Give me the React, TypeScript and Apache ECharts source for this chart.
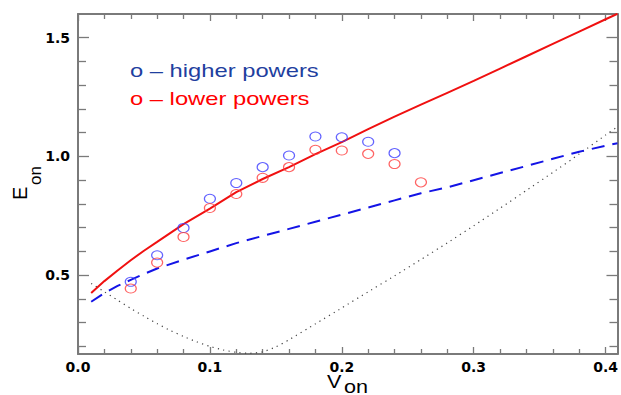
import React, { useEffect, useRef } from "react";
import * as echarts from "echarts";

// Measured points (Von, Eon)
const pointV = [0.04, 0.06, 0.08, 0.1, 0.12, 0.14, 0.16, 0.18, 0.2, 0.22, 0.24];
const higherE = [0.472, 0.584, 0.699, 0.822, 0.888, 0.955, 1.004, 1.084, 1.081, 1.062, 1.014];
const pointVLow = [0.04, 0.06, 0.08, 0.1, 0.12, 0.14, 0.16, 0.18, 0.2, 0.22, 0.24, 0.26];
const lowerE = [0.444, 0.553, 0.661, 0.783, 0.842, 0.91, 0.955, 1.028, 1.025, 1.011, 0.968, 0.891];

// Red solid curve
const redV = [0.01, 0.02, 0.03, 0.04, 0.05, 0.06, 0.08, 0.1, 0.12, 0.14, 0.16, 0.18, 0.2, 0.22, 0.24, 0.26, 0.28, 0.3, 0.32, 0.34, 0.36, 0.38, 0.4, 0.409];
const redE = [0.425, 0.475, 0.52, 0.563, 0.603, 0.64, 0.715, 0.78, 0.85, 0.905, 0.955, 1.01, 1.06, 1.115, 1.168, 1.218, 1.268, 1.318, 1.37, 1.422, 1.474, 1.526, 1.578, 1.601];

// Blue dashed curve
const blueV = [0.01, 0.02, 0.03, 0.04, 0.05, 0.06, 0.08, 0.1, 0.12, 0.14, 0.16, 0.18, 0.2, 0.22, 0.24, 0.26, 0.28, 0.3, 0.32, 0.34, 0.36, 0.38, 0.4, 0.409];
const blueE = [0.388, 0.425, 0.455, 0.48, 0.505, 0.528, 0.565, 0.6, 0.635, 0.665, 0.695, 0.725, 0.755, 0.785, 0.815, 0.845, 0.87, 0.9, 0.93, 0.96, 0.99, 1.02, 1.045, 1.056];

// Black dotted curve
const dotV = [0.01, 0.02, 0.03, 0.04, 0.05, 0.06, 0.07, 0.08, 0.09, 0.1, 0.11, 0.12, 0.13, 0.14, 0.15, 0.16, 0.18, 0.2, 0.22, 0.24, 0.26, 0.28, 0.3, 0.32, 0.34, 0.36, 0.38, 0.4, 0.409];
const dotE = [0.465, 0.43, 0.395, 0.36, 0.327, 0.296, 0.267, 0.242, 0.219, 0.2, 0.185, 0.175, 0.171, 0.177, 0.198, 0.228, 0.295, 0.362, 0.43, 0.497, 0.566, 0.636, 0.708, 0.782, 0.857, 0.933, 1.01, 1.09, 1.125];

// Ticks
const xMajor = [0, 0.1, 0.2, 0.3, 0.4];
const xMinor = [0.02, 0.04, 0.06, 0.08, 0.12, 0.14, 0.16, 0.18, 0.22, 0.24, 0.26, 0.28, 0.32, 0.34, 0.36, 0.38];
const yMajor = [0.5, 1.0, 1.5];
const yMinor = [0.2, 0.3, 0.4, 0.6, 0.7, 0.8, 0.9, 1.1, 1.2, 1.3, 1.4];

const X_MIN = 0;
const X_MAX = 0.409;
const Y_MIN = 0.168;
const Y_MAX = 1.6;

const legendTexts = ["o \u2013 higher powers", "o \u2013 lower powers"];

const zip = (a: number[], b: number[]) => a.map((v, i) => [v, b[i]]);

export default function App() {
  const ref = useRef<HTMLDivElement>(null);
  useEffect(() => {
    if (!ref.current) return;
    const chart = echarts.init(ref.current, null, { renderer: "svg" });
    const axisColor = "#7a7a7a";
    const labelStyle = {
      color: "#000",
      fontFamily: "DejaVu Sans",
      fontWeight: "bold" as const,
      fontSize: 14,
    };
    const mkX = (position: string, values: number[], len: number, showLine: boolean, showLabel: boolean) => ({
      type: "value",
      position,
      min: X_MIN,
      max: X_MAX,
      axisLine: { show: showLine, onZero: false, lineStyle: { color: axisColor, width: 2 } },
      axisTick: { show: true, inside: true, length: len, customValues: values, lineStyle: { color: axisColor, width: 1.3 } },
      axisLabel: showLabel
        ? { show: true, customValues: values, margin: 6, formatter: (v: number) => v.toFixed(1), ...labelStyle }
        : { show: false },
      splitLine: { show: false },
    });
    const mkY = (position: string, values: number[], len: number, showLine: boolean, showLabel: boolean) => ({
      type: "value",
      position,
      min: Y_MIN,
      max: Y_MAX,
      axisLine: { show: showLine, onZero: false, lineStyle: { color: axisColor, width: 2 } },
      axisTick: { show: true, inside: true, length: len, customValues: values, lineStyle: { color: axisColor, width: 1.3 } },
      axisLabel: showLabel
        ? { show: true, customValues: values, margin: 8, formatter: (v: number) => v.toFixed(1), ...labelStyle }
        : { show: false },
      splitLine: { show: false },
    });

    chart.setOption({
      animation: false,
      backgroundColor: "#fff",
      grid: { left: 78, top: 14, width: 543, height: 340, containLabel: false },
      xAxis: [
        mkX("bottom", xMajor, 7, true, true),
        mkX("bottom", xMinor, 5, false, false),
        mkX("top", xMajor, 7, true, false),
        mkX("top", xMinor, 5, false, false),
      ],
      yAxis: [
        mkY("left", yMajor, 11, true, true),
        mkY("left", yMinor, 8, false, false),
        mkY("right", yMajor, 11, true, false),
        mkY("right", yMinor, 8, false, false),
      ],
      series: [
        {
          type: "line",
          data: zip(dotV, dotE),
          showSymbol: false,
          smooth: 0.2,
          lineStyle: { color: "#444", width: 1.2, type: [1.2, 4.3] },
          z: 1,
        },
        {
          type: "line",
          data: zip(blueV, blueE),
          showSymbol: false,
          lineStyle: { color: "#1414e6", width: 2, type: [13, 8] },
          z: 2,
        },
        {
          type: "line",
          data: zip(redV, redE),
          showSymbol: false,
          lineStyle: { color: "#f01010", width: 2 },
          z: 3,
        },
        {
          type: "scatter",
          data: zip(pointV, higherE),
          symbol: "circle",
          symbolSize: [11, 9],
          itemStyle: { color: "rgba(0,0,0,0)", borderColor: "#3c3cff", borderWidth: 1.1 },
          z: 4,
        },
        {
          type: "scatter",
          data: zip(pointVLow, lowerE),
          symbol: "circle",
          symbolSize: [11, 9],
          itemStyle: { color: "rgba(0,0,0,0)", borderColor: "#ff3c3c", borderWidth: 1.1 },
          z: 4,
        },
      ],
      graphic: [
        {
          type: "text",
          x: 130,
          y: 71,
          scaleX: 1.25,
          style: { text: legendTexts[0], fill: "#1f3f9f", font: "19px 'Liberation Sans', Arial, sans-serif", align: "left", verticalAlign: "middle" },
        },
        {
          type: "text",
          x: 130,
          y: 99,
          scaleX: 1.25,
          style: { text: legendTexts[1], fill: "#ff0000", font: "19px 'Liberation Sans', Arial, sans-serif", align: "left", verticalAlign: "middle" },
        },
        {
          type: "group",
          x: 0,
          y: 200,
          rotation: Math.PI / 2,
          children: [
            { type: "text", x: 0, y: 19.5, style: { text: "E", fill: "#000", font: "20px 'Liberation Sans', Arial, sans-serif", align: "left", verticalAlign: "middle" } },
            { type: "text", x: 15, y: 35, style: { text: "on", fill: "#000", font: "17px 'Liberation Sans', Arial, sans-serif", align: "left", verticalAlign: "middle" } },
          ],
        },
        {
          type: "text",
          x: 327,
          y: 381.5,
          scaleX: 1.2,
          style: { text: "V", fill: "#000", font: "18px 'Liberation Sans', Arial, sans-serif", align: "left", verticalAlign: "middle" },
        },
        {
          type: "text",
          x: 344,
          y: 386.5,
          scaleX: 1.2,
          style: { text: "on", fill: "#000", font: "18px 'Liberation Sans', Arial, sans-serif", align: "left", verticalAlign: "middle" },
        },
      ],
    });
    return () => chart.dispose();
  }, []);
  return <div ref={ref} style={{ position: "absolute", left: 0, top: 0, width: 621, height: 395 }} />;
}
